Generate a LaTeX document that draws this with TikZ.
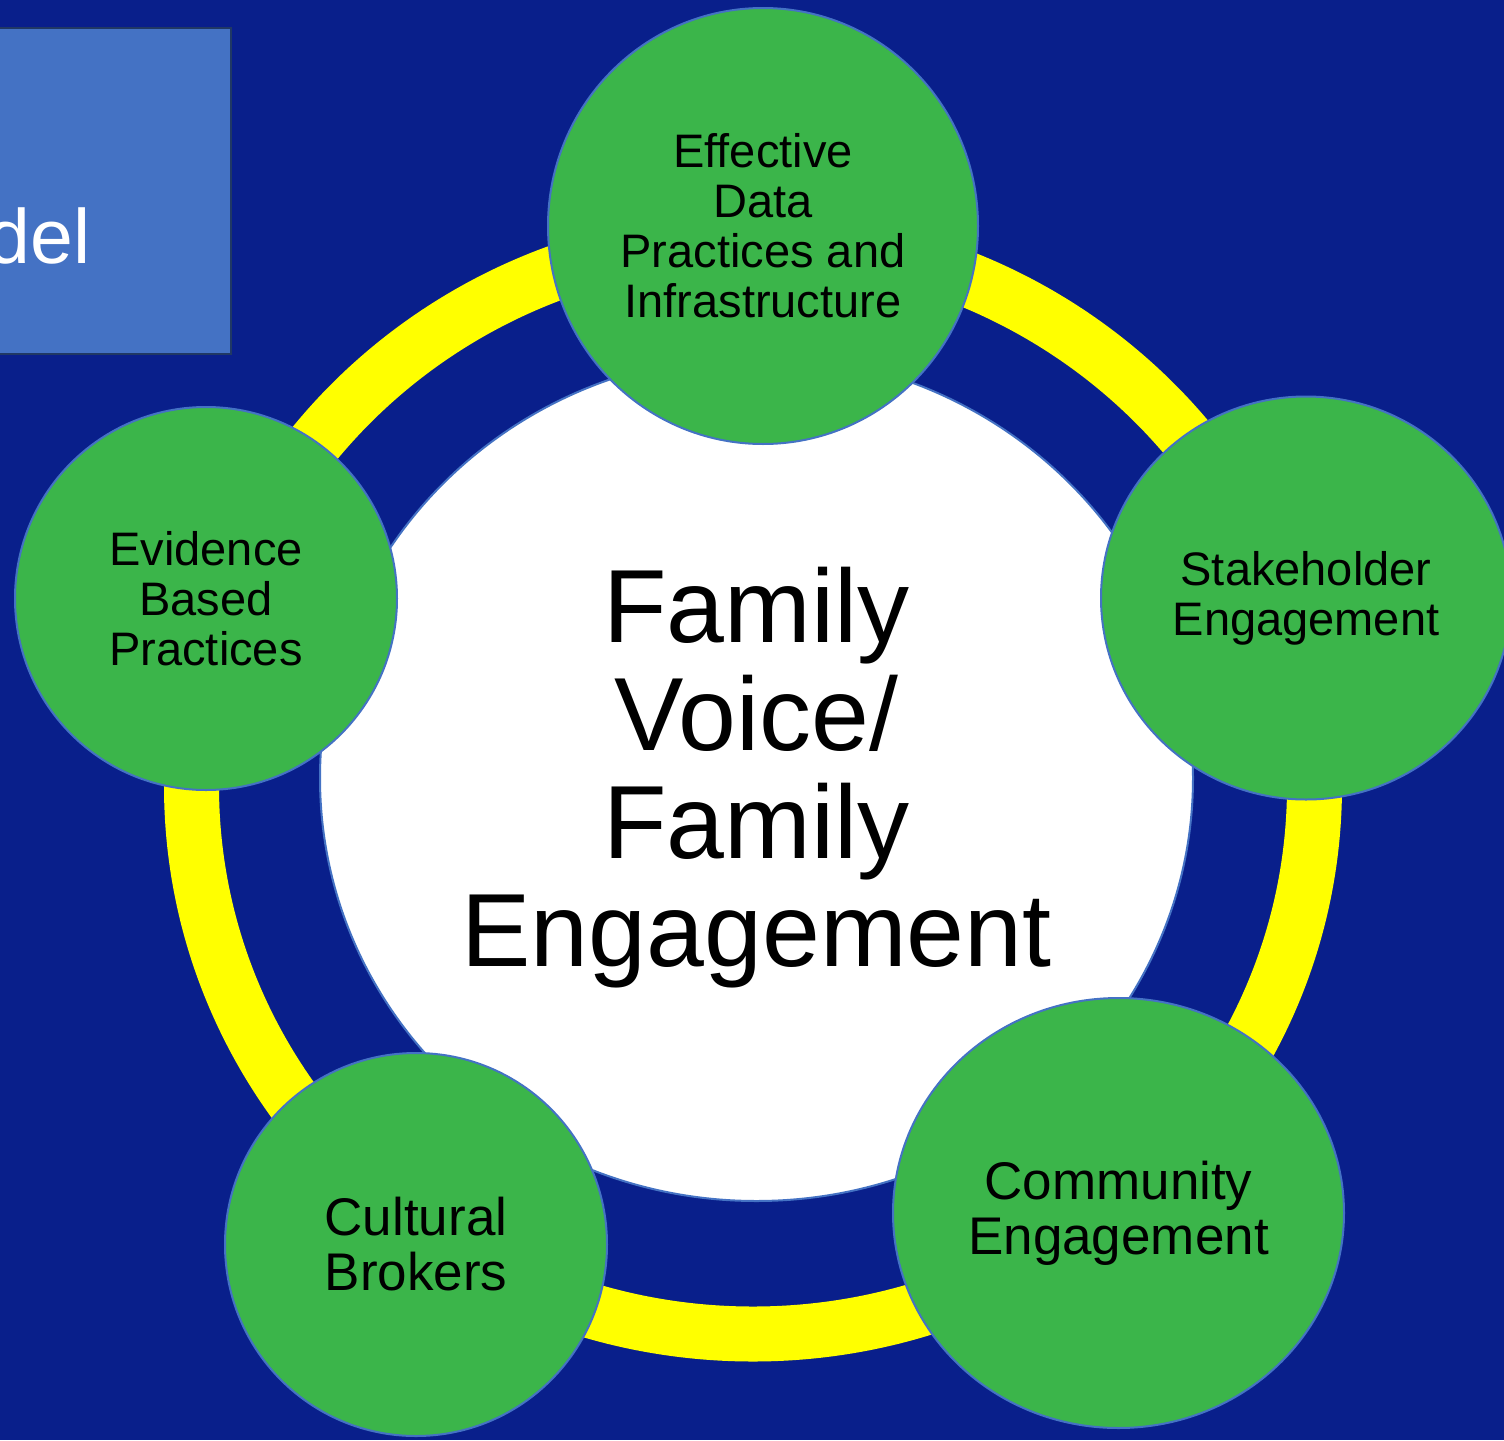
\documentclass[tikz,border=0pt]{standalone}
\usepackage{fontspec}
\setmainfont{Liberation Sans}
\usetikzlibrary{shapes.geometric}
\definecolor{navyback}{RGB}{9,31,139}
\definecolor{titleblue}{RGB}{68,114,196}
\definecolor{titleedge}{RGB}{32,56,100}
\definecolor{pillargreen}{RGB}{59,181,74}
\definecolor{edgeblue}{RGB}{68,114,196}
\definecolor{ringyellow}{RGB}{255,255,0}
\tikzstyle{pillar} = [ellipse, draw=edgeblue, line width=1pt, fill=pillargreen, align=center, inner sep=0pt, font=\fontsize{23.5}{25}\selectfont]
\tikzstyle{bigpillar} = [pillar, font=\fontsize{26.5}{27.5}\selectfont]
\tikzstyle{ring} = [draw=ringyellow, line width=27.5pt]

\begin{document}
\begin{tikzpicture}[x=0.5pt, y=-0.5pt]
    \useasboundingbox (0,0) rectangle (1504,1440);
    \fill[navyback] (0,0) rectangle (1504,1440);
    \clip (0,0) rectangle (1504,1440);

    % title box, cut by the left edge
    \node[draw=titleedge, line width=1pt, fill=titleblue, anchor=north east, minimum width=130pt, minimum height=163pt, inner sep=0pt] (titlebox) at (232,27) {};
    \node[text=white, font=\fontsize{38.5}{40}\selectfont, anchor=base east, inner sep=0pt] (titletext) at (91,263) {del};

    % yellow ring behind everything
    \coordinate (ringcentre) at (753,786);
    \draw[ring] (ringcentre) ellipse [x radius=561.5, y radius=548];

    \node[ellipse, fill=white, draw=edgeblue, line width=1pt, minimum width=436.5pt, minimum height=423pt, inner sep=0pt, align=center, font=\fontsize{52}{54}\selectfont] (core) at (756.5,778) {Family\\Voice/\\Family\\Engagement};

    \node[pillar, minimum width=215pt, minimum height=218pt] (datapractices) at (763,226) {Effective\\Data\\Practices and\\Infrastructure};
    \node[pillar, minimum width=205pt, minimum height=201.5pt] (stakeholder) at (1306,598) {Stakeholder\\Engagement};
    \node[bigpillar, minimum width=225.5pt, minimum height=215pt] (community) at (1118.5,1213) {Community\\Engagement};
    \node[bigpillar, minimum width=191pt, minimum height=191.5pt] (brokers) at (416,1244.5) {Cultural\\Brokers};
    \node[pillar, minimum width=191pt, minimum height=191.5pt] (evidence) at (206,598.5) {Evidence\\Based\\Practices};
\end{tikzpicture}
\end{document}
